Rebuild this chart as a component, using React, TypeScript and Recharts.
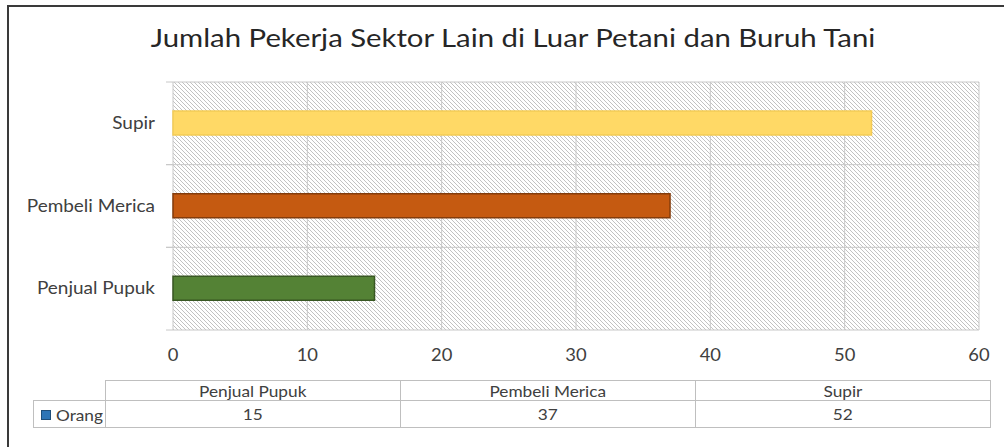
import React from "react";
import { BarChart, Bar, Cell, CartesianGrid, XAxis, YAxis } from "recharts";

const title = "Jumlah Pekerja Sektor Lain di Luar Petani dan Buruh Tani";
const categories = ["Penjual Pupuk", "Pembeli Merica", "Supir"];
const orang = [15, 37, 52];
const seriesName = "Orang";
const xTicks = [0, 10, 20, 30, 40, 50, 60];
const barFills = ["#548235", "#C55A11", "#FFD966"];
const barStrokes = ["#385723", "#843C0C", "#F4CB55"];

const FONT = "Lato, 'Open Sans', sans-serif";
const STRETCH = 1.15; // the source image is a bit wider than Lato
const CHART_W = 1004;
const CHART_H = 447;
const MARGIN = { top: 82, right: 25, bottom: 87, left: 0 };
const X_AXIS_H = 30;
const Y_AXIS_W = 173;
const PLOT_H = CHART_H - MARGIN.top - MARGIN.bottom - X_AXIS_H;
const BAND = PLOT_H / categories.length;

const data = categories.map((c, i) => ({ category: c, orang: orang[i] }));

// category label plus the little tick marks that sit on the band edges
function CategoryTick(props: any) {
    const { x, y, payload } = props;
    const right = MARGIN.left + Y_AXIS_W;
    return (
        <g>
            <line x1={right - 7} x2={right} y1={y - BAND / 2} y2={y - BAND / 2} stroke="#C8C8C8" />
            <line x1={right - 7} x2={right} y1={y + BAND / 2} y2={y + BAND / 2} stroke="#C8C8C8" />
            <text
                transform={`translate(${x},${y}) scale(${STRETCH},1)`}
                dy="0.35em"
                textAnchor="end"
                fill="#404040"
                fontSize={16.5}
                fontFamily={FONT}
            >
                {payload.value}
            </text>
        </g>
    );
}

function ValueTick(props: any) {
    const { x, y, payload } = props;
    return (
        <text
            transform={`translate(${x},${y}) scale(1.08,1)`}
            dy="0.71em"
            textAnchor="middle"
            fill="#404040"
            fontSize={17}
            fontFamily={FONT}
        >
            {payload.value}
        </text>
    );
}

function Wide({ children, origin = "center" }: { children: React.ReactNode; origin?: string }) {
    return (
        <span style={{ display: "inline-block", transform: `scaleX(${STRETCH})`, transformOrigin: origin }}>
            {children}
        </span>
    );
}

export default function App() {
    const cell: React.CSSProperties = {
        border: "1px solid #BFBFBF",
        padding: 0,
        textAlign: "center",
        lineHeight: "16px",
    };
    return (
        <div style={{ position: "absolute", left: 0, top: 0, width: CHART_W, height: CHART_H, background: "#fff", overflow: "hidden" }}>
            <div
                style={{
                    position: "absolute",
                    left: 7,
                    top: 5,
                    width: 1200,
                    height: 600,
                    borderLeft: "2px solid #3A3A3A",
                    borderTop: "2px solid #3A3A3A",
                }}
            />
            <div
                style={{
                    position: "absolute",
                    left: 0,
                    width: 1026,
                    top: 22,
                    textAlign: "center",
                    fontFamily: FONT,
                    fontSize: 25.5,
                    color: "#262626",
                }}
            >
                <Wide>{title}</Wide>
            </div>
            <div style={{ position: "absolute", left: 0, top: 0 }}>
                <BarChart width={CHART_W} height={CHART_H} data={data} layout="vertical" margin={MARGIN}>
                    <defs>
                        <pattern id="hatch" width="4" height="4" patternUnits="userSpaceOnUse">
                            <rect width="4" height="4" fill="#FFFFFF" />
                            <path d="M0,0 L4,4 M-1,3 L1,5 M3,-1 L5,1" stroke="#BBBBBB" strokeWidth={0.9} />
                        </pattern>
                    </defs>
                    <CartesianGrid
                        stroke="#C8C8C8"
                        fill="url(#hatch)"
                        fillOpacity={1}
                        horizontalCoordinatesGenerator={({ offset }: any) =>
                            categories.map((_, i) => offset.top + (offset.height * i) / categories.length).concat(offset.top + offset.height)
                        }
                    />
                    <XAxis
                        type="number"
                        domain={[0, 60]}
                        ticks={xTicks}
                        height={X_AXIS_H}
                        axisLine={false}
                        tickLine={false}
                        tickMargin={13}
                        tick={<ValueTick />}
                    />
                    <YAxis
                        type="category"
                        dataKey="category"
                        reversed
                        width={Y_AXIS_W}
                        axisLine={false}
                        tickLine={false}
                        tickMargin={12}
                        tick={<CategoryTick />}
                    />
                    <Bar dataKey="orang" name={seriesName} barSize={24} isAnimationActive={false}>
                        {data.map((d, i) => (
                            <Cell key={d.category} fill={barFills[i]} stroke={barStrokes[i]} strokeWidth={1.5} />
                        ))}
                    </Bar>
                </BarChart>
            </div>
            <table
                style={{
                    position: "absolute",
                    left: 33,
                    top: 380,
                    width: 957,
                    borderCollapse: "collapse",
                    tableLayout: "fixed",
                    fontFamily: FONT,
                    fontSize: 15,
                    color: "#404040",
                }}
            >
                <colgroup>
                    <col style={{ width: 72 }} />
                    {categories.map((c) => (
                        <col key={c} style={{ width: 295 }} />
                    ))}
                </colgroup>
                <tbody>
                    <tr style={{ height: 20 }}>
                        <td style={{ ...cell, border: "none" }} />
                        {categories.map((c) => (
                            <td key={c} style={cell}>
                                <Wide>{c}</Wide>
                            </td>
                        ))}
                    </tr>
                    <tr style={{ height: 27 }}>
                        <td style={{ ...cell, textAlign: "left", paddingLeft: 7, whiteSpace: "nowrap" }}>
                            <span
                                style={{
                                    display: "inline-block",
                                    width: 8,
                                    height: 8,
                                    background: "#2E75B6",
                                    border: "1px solid #1F4E79",
                                    marginRight: 5,
                                    verticalAlign: "middle",
                                }}
                            />
                            <span style={{ verticalAlign: "middle" }}>
                                <Wide origin="left">{seriesName}</Wide>
                            </span>
                        </td>
                        {orang.map((v, i) => (
                            <td key={categories[i]} style={cell}>
                                <Wide>{v}</Wide>
                            </td>
                        ))}
                    </tr>
                </tbody>
            </table>
        </div>
    );
}
